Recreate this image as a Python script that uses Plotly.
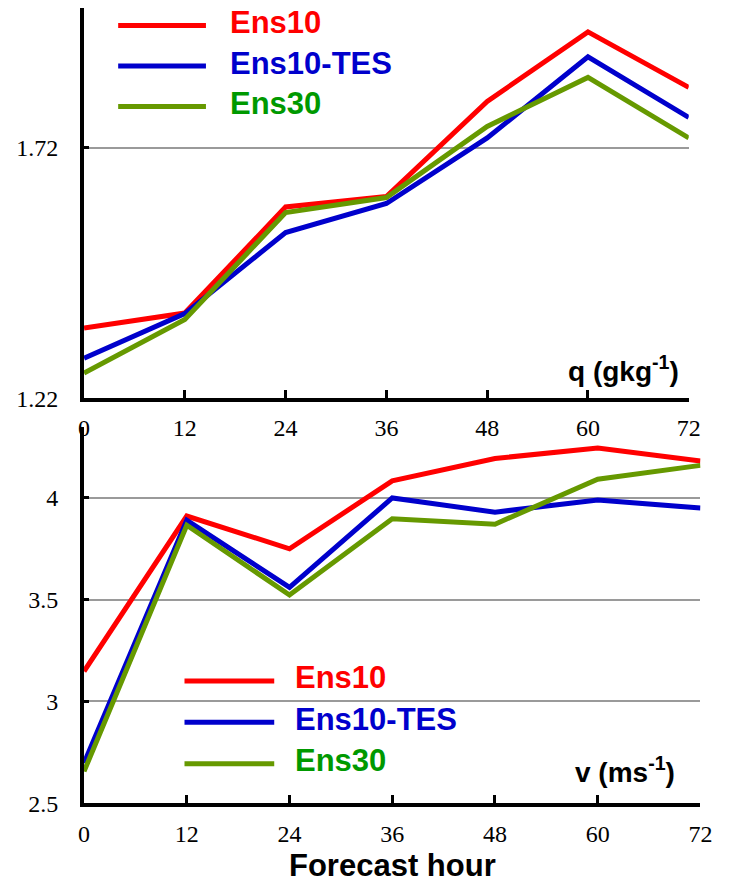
import plotly.graph_objects as go

# Forecast lead times (hours)
hours = [0, 12, 24, 36, 48, 60, 72]

# Specific humidity q (g/kg)
q_ens10 = [1.360, 1.390, 1.602, 1.623, 1.813, 1.952, 1.841]
q_ens10_tes = [1.300, 1.389, 1.551, 1.609, 1.740, 1.902, 1.781]
q_ens30 = [1.270, 1.377, 1.591, 1.621, 1.763, 1.861, 1.740]

# Meridional wind v (m/s)
v_ens10 = [3.148, 3.911, 3.750, 4.084, 4.194, 4.245, 4.181]
v_ens10_tes = [2.697, 3.890, 3.560, 4.000, 3.930, 3.990, 3.950]
v_ens30 = [2.656, 3.866, 3.523, 3.898, 3.871, 4.092, 4.160]

series_names = ["Ens10", "Ens10-TES", "Ens30"]
line_colors = ["#FF0000", "#0000CC", "#669900"]
text_colors = ["#FF0000", "#0000CC", "#009900"]

q_ticks = [1.22, 1.72]
v_ticks = [2.5, 3, 3.5, 4]

W, H = 731, 894


def px(x):
    return x / W


def py(y):
    return 1 - y / H


fig = go.Figure()

for name, col, ys in zip(series_names, line_colors, [q_ens10, q_ens10_tes, q_ens30]):
    fig.add_trace(go.Scatter(x=hours, y=ys, mode="lines", name=name,
                             line=dict(color=col, width=5),
                             xaxis="x", yaxis="y", showlegend=False))

for name, col, ys in zip(series_names, line_colors, [v_ens10, v_ens10_tes, v_ens30]):
    fig.add_trace(go.Scatter(x=hours, y=ys, mode="lines", name=name,
                             line=dict(color=col, width=5),
                             xaxis="x2", yaxis="y2", showlegend=False))

serif = dict(family="Liberation Serif", size=24, color="black")
axis_common = dict(showline=True, linecolor="black", linewidth=4,
                   ticks="inside", tickcolor="black", tickwidth=3,
                   tickfont=serif, zeroline=False)

fig.update_layout(
    width=W, height=H,
    margin=dict(l=0, r=0, t=0, b=0),
    paper_bgcolor="white", plot_bgcolor="white",
    font=dict(family="Liberation Sans"),
    xaxis=dict(domain=[px(80), px(700)], anchor="y", range=[0, 72],
               tickvals=hours, ticklen=8, showgrid=False,
               ticklabelstandoff=5, **axis_common),
    yaxis=dict(domain=[py(404), py(8)], anchor="x", range=[1.22, 2.0],
               tickvals=q_ticks, ticktext=["1.22", "1.72"], ticklen=5,
               showgrid=True, gridcolor="#9a9a9a", gridwidth=1.5,
               ticklabelstandoff=17, **axis_common),
    xaxis2=dict(domain=[px(80), px(712)], anchor="y2", range=[0, 72],
                tickvals=hours, ticklen=8, showgrid=False,
                ticklabelstandoff=6, **axis_common),
    yaxis2=dict(domain=[py(815), py(433)], anchor="x2", range=[2.5, 4.35],
                tickvals=v_ticks, ticktext=["2.5", "3", "3.5", "4"], ticklen=5,
                showgrid=True, gridcolor="#9a9a9a", gridwidth=1.5,
                ticklabelstandoff=17, **axis_common),
)

bold = "Liberation Sans"

# Legend keys: line samples with coloured labels, one block per panel
legend_blocks = [
    dict(x0=115, x1=205, tx=228, ys=[26, 67, 108]),
    dict(x0=183, x1=275, tx=294, ys=[691, 733, 775]),
]
for blk in legend_blocks:
    for name, lc, tc, yy in zip(series_names, line_colors, text_colors, blk["ys"]):
        fig.add_shape(type="line", xref="paper", yref="paper",
                      x0=px(blk["x0"]), x1=px(blk["x1"]), y0=py(yy), y1=py(yy),
                      line=dict(color=lc, width=5))
        fig.add_annotation(xref="paper", yref="paper", x=px(blk["tx"]), y=py(yy - 3),
                           text=f"<b>{name}</b>", showarrow=False,
                           xanchor="left", yanchor="middle",
                           font=dict(family=bold, size=31, color=tc))

# Panel variable labels
fig.add_annotation(xref="paper", yref="paper", x=px(692), y=py(374),
                   text="<b>q (gkg<sup>-1</sup>)</b>", showarrow=False,
                   xanchor="right", yanchor="middle",
                   font=dict(family=bold, size=28, color="black"))
fig.add_annotation(xref="paper", yref="paper", x=px(688), y=py(781),
                   text="<b>v (ms<sup>-1</sup>)</b>", showarrow=False,
                   xanchor="right", yanchor="middle",
                   font=dict(family=bold, size=28, color="black"))

# Shared x-axis title
fig.add_annotation(xref="paper", yref="paper", x=px(396), y=py(878),
                   text="<b>Forecast hour</b>", showarrow=False,
                   xanchor="center", yanchor="middle",
                   font=dict(family=bold, size=31, color="black"))

fig.write_html("out.html")
